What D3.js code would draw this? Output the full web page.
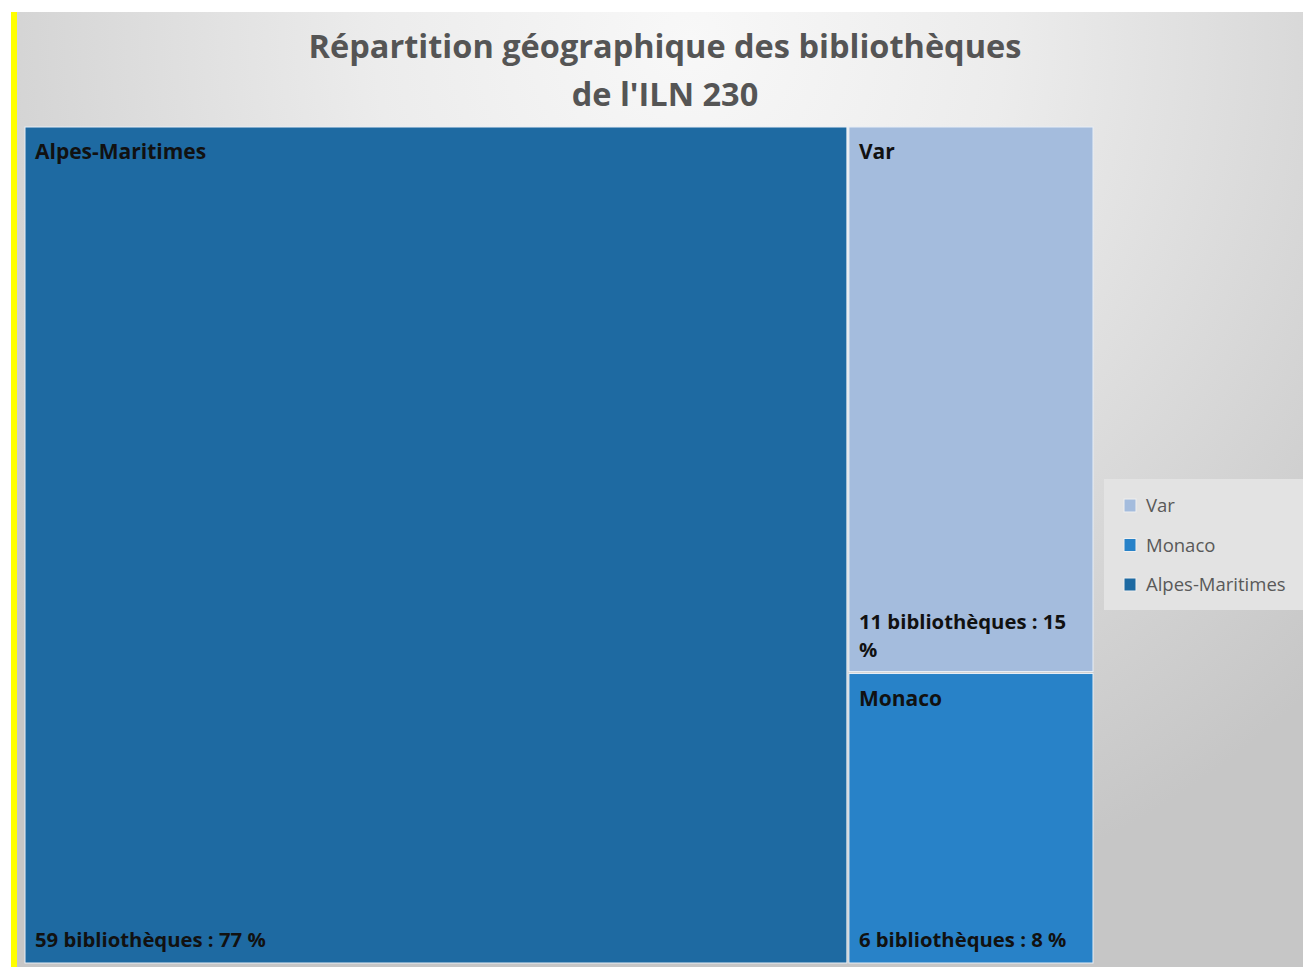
<!DOCTYPE html>
<html><head><meta charset="utf-8">
<script src="https://cdn.jsdelivr.net/npm/d3@7"></script>
<style>html,body{margin:0;padding:0;background:#fff;}svg{display:block;}</style>
</head><body>
<svg id="c" width="1303" height="967"></svg>
<script>
const categories = ["Alpes-Maritimes", "Var", "Monaco"];
const counts = [59, 11, 6];
const percents = [77, 15, 8];
const legendOrder = ["Var", "Monaco", "Alpes-Maritimes"];
const colors = {"Alpes-Maritimes": "#1e6aa2", "Var": "#a4bcdd", "Monaco": "#2882c8"};
const titleLines = ["Répartition géographique des bibliothèques", "de l'ILN 230"];

const FONT = "'Open Sans', Lato, sans-serif";
const svg = d3.select("#c");
const defs = svg.append("defs");
const rg = defs.append("radialGradient").attr("id","bg")
  .attr("gradientUnits","userSpaceOnUse").attr("cx",690).attr("cy",40).attr("r",900);
rg.append("stop").attr("offset","0%").attr("stop-color","#f8f8f8");
rg.append("stop").attr("offset","35%").attr("stop-color","#ececec");
rg.append("stop").attr("offset","100%").attr("stop-color","#c6c6c6");

svg.append("rect").attr("x",17).attr("y",12).attr("width",1286).attr("height",955).attr("fill","url(#bg)");
svg.append("rect").attr("x",11).attr("y",12).attr("width",6).attr("height",955).attr("fill","#ffff00");

// title
svg.append("g").selectAll("text").data(titleLines).join("text")
  .attr("x",665).attr("y",(d,i)=>58+i*48)
  .attr("text-anchor","middle")
  .attr("font-family",FONT)
  .attr("font-weight","bold").attr("font-size",32.5)
  .attr("fill","#555").text(d=>d);

// treemap (areas follow the displayed percentages)
const data = {name:"root", children: categories.map((c,i)=>({name:c, count:counts[i], value:percents[i], pct:percents[i]}))};
const root = d3.hierarchy(data).sum(d=>d.value||0).sort((a,b)=>b.value-a.value);
d3.treemap().tile(d3.treemapSquarify).size([1068, 836]).paddingInner(2)(root);
const g = svg.append("g").attr("transform","translate(25,127)");
const cell = g.selectAll("g").data(root.leaves()).join("g")
  .attr("transform",d=>`translate(${d.x0},${d.y0})`);
cell.append("rect").attr("width",d=>d.x1-d.x0).attr("height",d=>d.y1-d.y0)
  .attr("fill",d=>colors[d.data.name]).attr("stroke","#e8eef5").attr("stroke-width",1);
cell.append("text").attr("x",10).attr("y",32)
  .attr("font-family",FONT).attr("font-weight","bold")
  .attr("font-size",21).attr("fill","#111").text(d=>d.data.name);
cell.each(function(d){
  const w = d.x1-d.x0, h = d.y1-d.y0;
  const full = `${d.data.count} bibliothèques : ${d.data.pct} %`;
  const t = d3.select(this).append("text")
    .attr("font-family",FONT).attr("font-weight","bold")
    .attr("font-size",20.3).attr("fill","#111");
  t.text(full);
  if (t.node().getComputedTextLength() > w-20) {
    const parts = [`${d.data.count} bibliothèques : ${d.data.pct}`, "%"];
    t.text(null);
    parts.forEach((p,i)=>t.append("tspan").attr("x",10).attr("y",h-43+i*28).text(p));
  } else {
    t.attr("x",10).attr("y",h-16);
  }
});

// legend
const lg = svg.append("g").attr("transform","translate(1104,479)");
lg.append("rect").attr("width",199).attr("height",131).attr("fill","#e3e3e3");
const li = lg.selectAll("g.item").data(legendOrder).join("g").attr("class","item")
  .attr("transform",(d,i)=>`translate(20,${27+i*39.5})`);
li.append("rect").attr("x",0).attr("y",-7).attr("width",12).attr("height",13)
  .attr("fill",d=>colors[d]).attr("stroke","#f0f0f0").attr("stroke-width",1);
li.append("text").attr("x",22).attr("y",6)
  .attr("font-family",FONT).attr("font-size",18.5)
  .attr("fill","#595959").text(d=>d);
</script>
</body></html>
